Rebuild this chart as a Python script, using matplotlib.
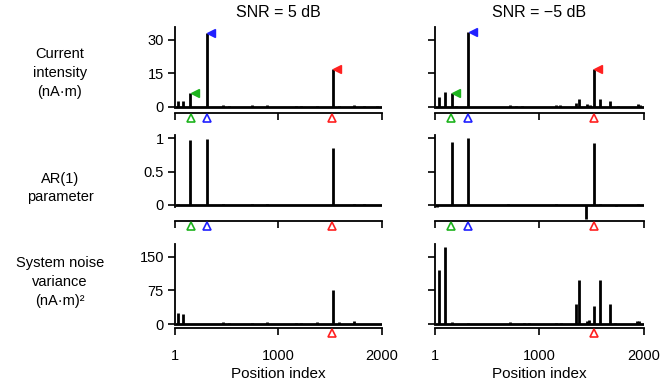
import numpy as np
import matplotlib.pyplot as plt
import matplotlib.transforms as mtransforms

plt.rcParams['font.family'] = ['Liberation Sans', 'DejaVu Sans']

# ---- data ----
snr_titles = ['SNR = 5 dB', 'SNR = \u22125 dB']
row_labels = ['Current\nintensity\n(nA\u00b7m)', 'AR(1)\nparameter',
              'System noise\nvariance\n(nA\u00b7m)\u00b2']

true_pos = [152, 312, 1520]
true_colors = ['#1db31d', '#2020ff', '#ff2020']

# current intensity
cur5_idx = [26, 80, 145, 306, 467, 525, 748, 887, 1167, 1218, 1370, 1522, 1580, 1731, 1822, 1950]
cur5_val = [2.8, 2.8, 6.3, 33.0, 0.8, 0.5, 0.7, 1.0, 0.4, 0.5, 0.6, 16.8, 0.6, 1.0, 0.5, 0.4]
cur5_flag = [2, 3, 11]   # which entries are the true sources (green, blue, red)

curm5_idx = [41, 95, 159, 200, 318, 716, 780, 830, 1160, 1200, 1353, 1375, 1457, 1480,
             1518, 1576, 1671, 1750, 1943, 1960]
curm5_val = [4.5, 6.6, 6.3, 0.5, 33.7, 0.8, 0.5, 0.5, 1.0, 1.0, 2.0, 3.7, 1.5, 1.0,
             17.2, 3.6, 2.5, 0.5, 1.5, 1.0]
curm5_flag = [2, 4, 14]

# AR(1) parameter
ar5_idx = [26, 145, 306, 467, 748, 887, 1522, 1731, 1822]
ar5_val = [0.02, 0.98, 0.99, 0.01, 0.01, 0.01, 0.86, 0.01, 0.01]

arm5_idx = [20, 159, 318, 700, 1160, 1448, 1518, 1576, 1731, 1943]
arm5_val = [-0.03, 0.95, 1.0, 0.01, 0.01, -0.21, 0.93, 0.02, -0.02, 0.01]

# system noise variance
nv5_idx = [26, 80, 250, 467, 525, 748, 887, 1167, 1218, 1370, 1522, 1580, 1731, 1950]
nv5_val = [26, 23, 1, 5, 3, 3, 6, 2, 2, 4, 75, 6, 8, 1]

nvm5_idx = [41, 95, 159, 318, 716, 850, 900, 1160, 1210, 1353, 1375, 1457, 1475, 1518,
            1576, 1671, 1720, 1930, 1955]
nvm5_val = [121, 171, 5, 3, 4, 3, 2, 3, 3, 45, 99, 8, 10, 41, 99, 45, 2, 8, 8]

panels = [
    [(cur5_idx, cur5_val, cur5_flag), (curm5_idx, curm5_val, curm5_flag)],
    [(ar5_idx, ar5_val, None), (arm5_idx, arm5_val, None)],
    [(nv5_idx, nv5_val, None), (nvm5_idx, nvm5_val, None)],
]
ylims = [(-2.7, 35.8), (-0.24, 1.05), (-8.2, 178)]
yspine = [(-0.4, 35.8), (-0.03, 1.05), (-1.5, 178)]
yticks = [[0, 15, 30], [0, 0.5, 1], [0, 75, 150]]
ytick_labels = [['0', '15', '30'], ['0', '0.5', '1'], ['0', '75', '150']]
marker_rows = [[0, 1, 2], [0, 1, 2], [2]]   # which true sources are marked under each row

W, H = 661, 386
fig = plt.figure(figsize=(W / 100, H / 100), dpi=100)

col_x = [(175, 382), (435, 644)]
row_y = [(27, 113), (135, 221), (244, 328)]

for r in range(3):
    for c in range(2):
        x0, x1 = col_x[c]
        y0, y1 = row_y[r]
        ax = fig.add_axes([x0 / W, 1 - y1 / H, (x1 - x0) / W, (y1 - y0) / H])
        idx, val, flag = panels[r][c]
        ax.hlines(0, 1, 2000, color='black', lw=2)
        ax.vlines(idx, 0, val, color='black', lw=2)
        ax.set_xlim(1, 2000)
        ax.set_ylim(*ylims[r])

        for s in ['top', 'right']:
            ax.spines[s].set_visible(False)
        ax.spines['left'].set_bounds(*yspine[r])
        ax.spines['left'].set_linewidth(1.3)
        ax.spines['bottom'].set_linewidth(1.3)
        ax.tick_params(direction='out', length=5, width=1.2, labelsize=10.5, pad=3)
        ax.set_yticks(yticks[r])
        ax.set_xticks([1, 1000, 2000])
        if c == 0:
            ax.set_yticklabels(ytick_labels[r])
        else:
            ax.set_yticklabels([])
        if r == 2:
            ax.set_xticklabels(['1', '1000', '2000'])
            ax.tick_params(axis='x', pad=10)
            ax.set_xlabel('Position index', fontsize=11, labelpad=3)
        else:
            ax.set_xticklabels([])

        # open triangles marking the true source positions
        trans = ax.get_xaxis_transform() + mtransforms.ScaledTranslation(0, -3.5 / 72, fig.dpi_scale_trans)
        for k in marker_rows[r]:
            ax.plot(true_pos[k], 0, '^', transform=trans, clip_on=False, ms=5.5,
                    mfc='white', mec=true_colors[k], mew=1.2, zorder=5)

        # flags at the top of the detected sources
        if flag is not None:
            ftrans = ax.transData + mtransforms.ScaledTranslation(3.5 / 72, 0, fig.dpi_scale_trans)
            for k, j in enumerate(flag):
                ax.plot(idx[j], val[j], '<', transform=ftrans, clip_on=False, ms=6,
                        color=true_colors[k])

        if r == 0:
            ax.set_title(snr_titles[c], fontsize=11.5, pad=7)

label_y = [73, 188, 282]
for r in range(3):
    fig.text(60 / W, 1 - label_y[r] / H, row_labels[r], ha='center', va='center',
             fontsize=10.5, linespacing=1.45)

fig.savefig('out.png', dpi=100)
